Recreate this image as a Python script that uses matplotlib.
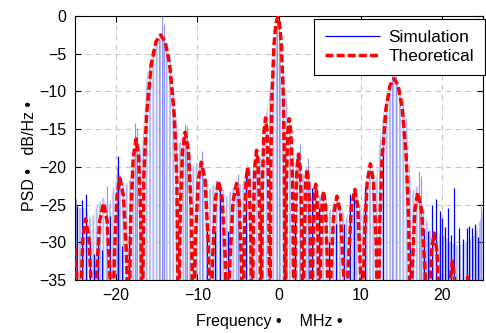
import matplotlib.pyplot as plt

plt.rcParams['font.family'] = ['Liberation Sans', 'DejaVu Sans']

# theoretical PSD curve (MHz, dB/Hz), nulls pushed below the axis
theo_f = [-25.0, -24.8, -24.5,
          -24.3, -24.02, -23.7, -23.3, -22.95, -22.7,
          -22.4, -21.98, -21.5, -21.06, -20.68, -20.4,
          -20.18, -19.86, -19.5, -19.06, -18.68, -18.4,
          -18.18, -17.86, -17.5, -17.2, -16.94, -16.75,
          -16.57, -16.225, -15.65, -15.075, -14.5, -13.95, -13.4, -12.85, -12.52, -12.3,
          -12.1, -11.82, -11.5, -11.1, -10.75, -10.5,
          -10.25, -9.9, -9.5, -9.06, -8.68, -8.4,
          -8.15, -7.8, -7.4, -6.96, -6.58, -6.3,
          -6.02, -5.64, -5.2, -4.88, -4.6, -4.4,
          -4.24, -4.04, -3.85, -3.66, -3.46, -3.3,
          -3.14, -2.94, -2.75, -2.56, -2.36, -2.2,
          -2.04, -1.84, -1.65, -1.46, -1.26, -1.1,
          -1.005, -0.86, -0.625, -0.39, -0.15, 0.075, 0.3, 0.525, 0.66, 0.75,
          0.9, 1.075, 1.25, 1.46, 1.67, 1.85,
          2.015, 2.21, 2.4, 2.59, 2.785, 2.95,
          3.1, 3.275, 3.45, 3.64, 3.835, 4.0,
          4.15, 4.325, 4.5, 4.66, 4.815, 4.95,
          5.1, 5.275, 5.45, 5.68, 5.905, 6.1,
          6.35, 6.7, 7.1, 7.54, 7.925, 8.2,
          8.475, 8.86, 9.3, 9.66, 9.975, 10.2,
          10.45, 10.8, 11.2, 11.58, 11.91, 12.15,
          12.345, 12.64, 13.125, 13.61, 14.1, 14.6, 15.1, 15.6, 15.9, 16.1,
          16.325, 16.64, 17.0, 17.48, 17.9, 18.2,
          18.4, 18.68, 19.0, 19.36, 19.675, 19.9,
          20.6, 20.76, 20.99, 21.25, 21.53, 21.78, 21.95,
          22.6, 22.85, 23.1, 23.35, 23.6,
          25.0]
theo_db = [-30.8, -34.0, -45,
           -37.4, -29.3, -26.9, -29.3, -37.4, -45,
           -35.3, -27.2, -24.8, -27.2, -35.3, -45,
           -32.0, -23.9, -21.5, -23.9, -32.0, -45,
           -26.8, -18.7, -16.3, -18.7, -26.8, -45,
           -21.5, -13.0, -6.4, -3.4, -2.5, -3.4, -6.4, -13.0, -21.5, -45,
           -25.9, -17.8, -15.4, -17.8, -25.9, -45,
           -29.9, -21.8, -19.4, -21.8, -29.9, -45,
           -32.4, -24.3, -21.9, -24.3, -32.4, -45,
           -32.7, -24.6, -22.2, -24.6, -32.7, -45,
           -28.8, -21.9, -20.1, -21.9, -28.8, -45,
           -26.5, -19.6, -17.8, -19.6, -26.5, -45,
           -22.2, -15.3, -13.5, -15.3, -22.2, -45,
           -19.1, -10.6, -4.0, -1.0, -0.1, -1.0, -4.0, -10.6, -19.1, -45,
           -22.3, -15.4, -13.6, -15.4, -22.3, -45,
           -27.0, -20.1, -18.3, -20.1, -27.0, -45,
           -29.0, -22.1, -20.3, -22.1, -29.0, -45,
           -31.0, -24.1, -22.3, -24.1, -31.0, -45,
           -31.9, -25.0, -23.2, -25.0, -31.9, -45,
           -34.4, -26.3, -23.9, -26.3, -34.4, -45,
           -33.5, -25.4, -23.0, -25.4, -33.5, -45,
           -30.1, -22.0, -19.6, -22.0, -30.1, -45,
           -27.3, -18.8, -12.2, -9.2, -8.3, -9.2, -12.2, -18.8, -27.3, -45,
           -33.9, -25.8, -23.4, -25.8, -33.9, -45,
           -39.3, -31.2, -28.8, -31.2, -39.3, -45,
           -45, -43, -34.9, -32.5, -34.9, -43, -45,
           -45, -37.0, -34.6, -37.0, -45,
           -45]

# top of the dense simulated band
sim_env_f = [-25.0, -24.6, -23.7, -23.0, -22.4, -21.5, -20.9, -20.2, -19.5, -18.8, -18.2,
             -17.5, -16.8, -16.2, -15.5, -14.5, -13.5, -12.8, -12.3, -11.5, -10.6, -9.5,
             -8.5, -7.4, -6.4, -5.2, -4.5, -3.85, -3.3, -2.75, -2.2, -1.65, -1.0, -0.15,
             0.6, 1.25, 1.85, 2.4, 2.95, 3.45, 4.0, 4.5, 5.0, 5.45, 6.2, 7.1, 8.2, 9.3,
             10.2, 11.2, 11.9, 12.5, 13.2, 14.1, 15.0, 15.7, 16.2, 17.0, 17.7, 18.5,
             19.0, 20.0, 21.0, 22.0, 23.0, 24.0, 25.0]
sim_env_db = [-25.0, -25.5, -25.5, -27.0, -25.5, -24.0, -25.5, -22.5, -21.0, -22.5, -21.5,
              -16.5, -18.0, -8.0, -4.5, -2.5, -4.5, -10.5, -17.0, -15.5, -20.0, -19.0,
              -23.0, -21.5, -24.0, -22.0, -22.5, -19.5, -21.0, -17.5, -19.0, -13.5, -9.0, -0.5,
              -8.0, -13.5, -19.0, -18.0, -21.0, -20.0, -23.0, -22.0, -24.0, -23.0, -26.0, -23.5, -27.0, -22.8,
              -26.5, -19.5, -22.0, -15.0, -10.5, -8.0, -10.0, -14.0, -23.5, -22.5, -25.5, -28.5,
              -28.5, -29.0, -30.0, -30.5, -30.0, -29.0, -26.0]

# distinct dark simulation spikes
dark_f = [-24.8, -24.2, -23.6, -23.2, -22.7, -22.2, -21.7, -20.7, -19.7, -19.2, -18.4,
          -8.8, -7.8, -7.2, -6.3, -4.1, -2.2, 1.9, 4.1, 4.9, 6.1, 7.0, 8.0, 8.7, 9.2,
          10.5, 12.8, 16.1, 17.8, 18.3, 18.8, 19.2, 19.7, 20.0, 20.4, 20.7, 21.1, 21.4,
          22.1, 22.5, 23.0, 23.3, 23.7, 24.0, 24.4]
dark_db = [-25.2, -24.4, -23.6, -30.0, -31.5, -29.5, -31.0, -26.5, -18.5, -30.5, -29.0,
           -28.5, -28.5, -22.3, -28.5, -20.1, -27.0, -27.0, -22.8, -25.4, -30.0, -27.6, -27.6, -23.6, -22.9,
           -22.5, -17.4, -30.0, -28.3, -28.5, -25.0, -24.3, -25.9, -26.8, -28.0, -25.4, -29.0, -22.8,
           -28.1, -29.6, -28.1, -27.9, -28.1, -27.6, -29.3]

# light spikes sticking out above the band
light_f = [-24.9, -21.1, -19.8, -17.7, -17.4, -14.7, -14.35, -14.15, -11.55, -11.3, -9.4,
           -5.0, -0.25, -0.05, 2.6, 3.6, 13.9, 14.3, 17.2, 17.35, 24.8]
light_db = [-24.3, -22.5, -20.0, -14.2, -14.8, -3.0, 0.0, -1.0, -14.3, -14.6, -17.9,
            -21.0, 0.0, -1.0, -17.0, -18.8, -7.2, -7.0, -20.5, -21.2, -24.8]

fig = plt.figure(figsize=(4.86, 3.33), dpi=100)
ax = fig.add_axes([75/486, 1-280/333, 408/486, 264/333])

ax.fill_between(sim_env_f, sim_env_db, -40, facecolor='#b3baf7', edgecolor='white',
                hatch='|||||', linewidth=0, zorder=1)
ax.vlines(light_f, -40, light_db, color='#8e96f2', lw=0.8, zorder=1.6)
ax.vlines(dark_f, -40, dark_db, color='blue', lw=0.9, zorder=1.7, label='Simulation')
ax.plot(theo_f, theo_db, color='red', linestyle=(0, (2.3, 0.9)), lw=2.5, label='Theoretical', zorder=3)

ax.set_xlim(-25, 25)
ax.set_ylim(-35, 0)
ax.set_xticks([-20, -10, 0, 10, 20])
ax.set_yticks(range(-35, 1, 5))
ax.tick_params(direction='in', top=True, right=True, length=4, width=0.8, labelsize=11.5, pad=6)
for s in ax.spines.values():
    s.set_linewidth(0.8)
ax.grid(True, color='#c8c8c8', linestyle=(0, (5, 4)), linewidth=0.8)

ax.set_xlabel('Frequency •    MHz •', fontsize=11.5)
ax.set_ylabel('PSD •   dB/Hz •', fontsize=11.5)
ax.xaxis.set_label_coords(0.477, -0.127)
ax.yaxis.set_label_coords(-0.094, 0.468)

leg = ax.legend(loc='upper right', bbox_to_anchor=(485/486, 1-19/333), bbox_transform=fig.transFigure,
                borderaxespad=0, fancybox=False, edgecolor='black', framealpha=1, fontsize=12.4,
                handlelength=3.2, handletextpad=0.47, borderpad=0.63, labelspacing=0.25)
leg.get_frame().set_linewidth(0.8)

fig.savefig('out.png', dpi=100)
